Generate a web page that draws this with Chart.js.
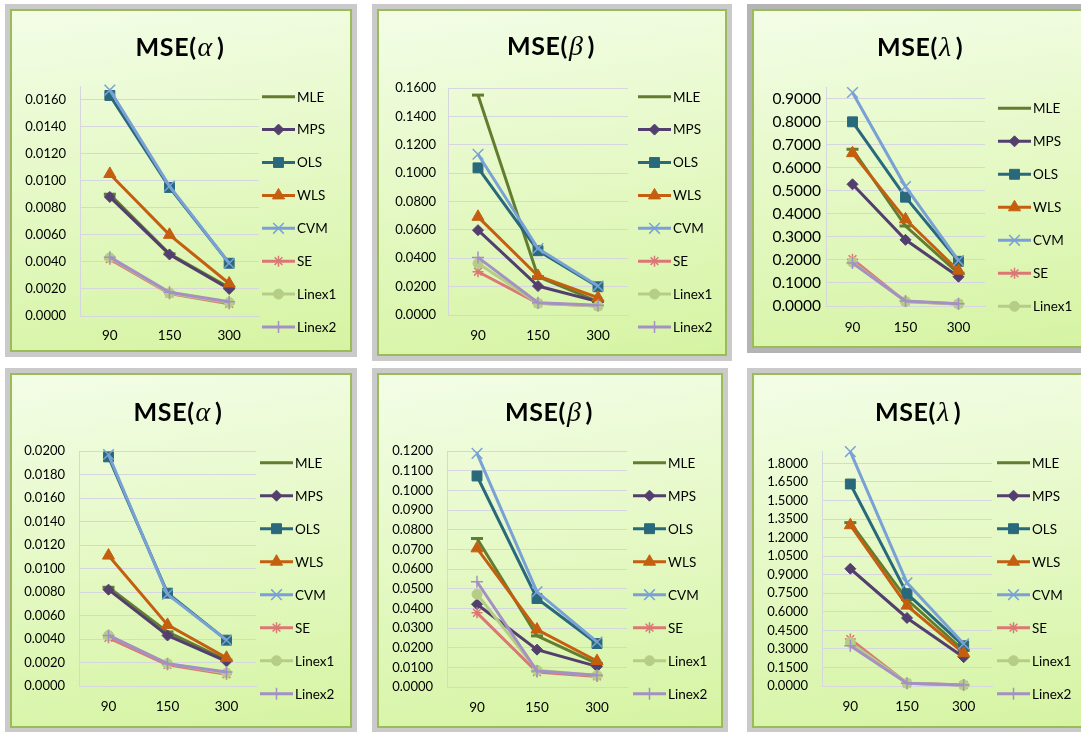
<!DOCTYPE html>
<html lang="en">
<head>
<meta charset="UTF-8">
<title>MSE panels</title>
<script src="https://cdn.jsdelivr.net/npm/chart.js"></script>
<style>
  body { margin: 0; width: 1081px; height: 732px; overflow: hidden; background: #fff; position: relative; font-family: Lato, sans-serif; }
  .panel {
    position: absolute;
    background: linear-gradient(172deg, #f3fde7 0%, #e6f9c8 45%, #d5f4a2 100%);
    box-shadow: inset 0 0 0 2px #9bbb59, 0 0 0 5px #cacaca;
  }
  .panel.dark { box-shadow: inset 0 0 0 2px #9bbb59, 0 0 0 5px #b4b4b4; }
  .panel canvas { position: absolute; left: 0; top: 0; }
  .ttl {
    position: absolute; transform: translate(-50%, -50%);
    font: bold 25px Lato, sans-serif; letter-spacing: 0.6px; color: #000; white-space: nowrap;
  }
  .ttl i { font: italic 28px "Liberation Serif", serif; margin: 0 4px 0 1px; }
</style>
</head>
<body>
<script>
// categories and series
const sampleSizes = ['90', '150', '300'];
const methods = ['MLE', 'MPS', 'OLS', 'WLS', 'CVM', 'SE', 'Linex1', 'Linex2'];
const paramSymbols = ['α', 'β', 'λ', 'α', 'β', 'λ'];

// one row per method (MLE..Linex2), values for n = 90, 150, 300
const mseAlphaTop = [
  [0.0090, 0.0046, 0.0021],
  [0.0088, 0.00455, 0.0020],
  [0.0163, 0.0095, 0.0039],
  [0.0105, 0.0060, 0.0024],
  [0.0167, 0.0096, 0.0039],
  [0.0042, 0.00165, 0.0009],
  [0.0043, 0.0017, 0.0010],
  [0.00435, 0.00175, 0.00105]
];
const mseBetaTop = [
  [0.1550, 0.0270, 0.0095],
  [0.0598, 0.0204, 0.0094],
  [0.1037, 0.0453, 0.0199],
  [0.0692, 0.0275, 0.0122],
  [0.1133, 0.0469, 0.0204],
  [0.0305, 0.0082, 0.0063],
  [0.0364, 0.0082, 0.0063],
  [0.0406, 0.0087, 0.0068]
];
const mseLambdaTop = [
  [0.680, 0.347, 0.142],
  [0.528, 0.287, 0.127],
  [0.799, 0.472, 0.194],
  [0.663, 0.376, 0.153],
  [0.926, 0.518, 0.197],
  [0.203, 0.019, 0.009],
  [0.190, 0.019, 0.009],
  [0.186, 0.022, 0.010]
];
const mseAlphaBottom = [
  [0.0084, 0.0046, 0.0022],
  [0.0082, 0.0043, 0.0021],
  [0.0195, 0.0079, 0.0039],
  [0.0111, 0.0052, 0.0024],
  [0.0197, 0.0078, 0.0039],
  [0.0041, 0.0018, 0.0010],
  [0.0043, 0.0019, 0.0011],
  [0.0043, 0.0019, 0.0012]
];
const mseBetaBottom = [
  [0.0755, 0.0260, 0.0119],
  [0.0421, 0.0190, 0.0105],
  [0.1073, 0.0450, 0.0221],
  [0.0705, 0.0292, 0.0132],
  [0.1188, 0.0484, 0.0229],
  [0.0377, 0.0076, 0.0054],
  [0.0472, 0.0085, 0.0059],
  [0.0535, 0.0081, 0.0060]
];
const mseLambdaBottom = [
  [1.321, 0.699, 0.287],
  [0.948, 0.550, 0.233],
  [1.633, 0.747, 0.325],
  [1.300, 0.650, 0.265],
  [1.895, 0.834, 0.341],
  [0.379, 0.022, 0.008],
  [0.352, 0.022, 0.008],
  [0.325, 0.022, 0.008]
];

// y axis ranges (tick labels are multiples of the step)
const yAxisMax = [0.017, 0.16, 0.95, 0.02, 0.12, 1.9];
const yAxisStep = [0.002, 0.02, 0.1, 0.002, 0.01, 0.15];

const panelData = [mseAlphaTop, mseBetaTop, mseLambdaTop, mseAlphaBottom, mseBetaBottom, mseLambdaBottom];

// look of the series
const seriesColors = ['#637d30', '#533f6e', '#29697b', '#c45f10', '#79a1d6', '#db7774', '#b6cd87', '#a391c4'];
const markerStyles = ['line', 'rectRot', 'rect', 'triangle', 'crossRot', 'star', 'circle', 'cross'];
const markerRadius = [6, 5.5, 7, 7, 7.5, 5.5, 5, 6];
const markerBorder = [3, 1, 1, 1, 1.5, 1.5, 1, 1.5];

// panel boxes: page position, size, plot area (relative), label offsets, legend placement
const panelBoxes = [
  { x: 10,  y: 9,   w: 342, h: 343, caL: 70, caR: 249, caT: 77, caB: 307, yPad: 14, xPad: 12, yFont: 13,
    lgX: 252, lgT: 87.7, lgGap: 32.9, lgN: 8, tx: 170, ty: 38 },
  { x: 377, y: 9,   w: 350, h: 347, caL: 71, caR: 251, caT: 79, caB: 306, yPad: 12, xPad: 13, yFont: 13,
    lgX: 261, lgT: 87.7, lgGap: 32.9, lgN: 8, tx: 174, ty: 37 },
  { x: 752, y: 9,   w: 340, h: 339, caL: 74, caR: 233, caT: 78, caB: 297, yPad: 5, xPad: 14, yFont: 15.5,
    lgX: 246, lgT: 99.3, lgGap: 33, lgN: 7, tx: 168, ty: 38, dark: true },
  { x: 10,  y: 373, w: 342, h: 355, caL: 69, caR: 246, caT: 78, caB: 313, yPad: 14, xPad: 13, yFont: 13,
    lgX: 250, lgT: 89.7, lgGap: 33, lgN: 8, tx: 168, ty: 39 },
  { x: 377, y: 373, w: 346, h: 355, caL: 70, caR: 250, caT: 78, caB: 314, yPad: 14, xPad: 13, yFont: 13,
    lgX: 256, lgT: 89.7, lgGap: 33, lgN: 8, tx: 172, ty: 39 },
  { x: 752, y: 373, w: 340, h: 355, caL: 70, caR: 240, caT: 78, caB: 313, yPad: 14, xPad: 13, yFont: 13,
    lgX: 245, lgT: 89.7, lgGap: 33, lgN: 8, tx: 166, ty: 39 }
];

const gridColor = '#d6d6de';
Chart.defaults.font.family = 'Lato';
Chart.defaults.color = '#000';

// Excel-like legend: line sample with marker, then the name
const sideLegend = {
  id: 'sideLegend',
  afterDraw(chart, args, opts) {
    const ctx = chart.ctx;
    const sets = chart.data.datasets;
    ctx.save();
    ctx.font = '13.5px Lato';
    ctx.textBaseline = 'middle';
    ctx.textAlign = 'left';
    for (let i = 0; i < opts.count; i++) {
      const d = sets[i];
      const y = opts.top + i * opts.gap;
      ctx.strokeStyle = d.borderColor;
      ctx.fillStyle = d.borderColor;
      ctx.lineWidth = 3;
      ctx.beginPath();
      ctx.moveTo(opts.x, y);
      ctx.lineTo(opts.x + 33, y);
      ctx.stroke();
      ctx.lineWidth = d.pointBorderWidth;
      Chart.helpers.drawPoint(ctx, {
        pointStyle: d.pointStyle, radius: d.label === 'MLE' ? 0 : d.pointRadius,
        borderWidth: d.pointBorderWidth, rotation: 0
      }, opts.x + 16.5, y);
      ctx.fillStyle = '#000';
      ctx.fillText(d.label, opts.x + 35, y + 0.5);
    }
    ctx.restore();
  }
};

panelBoxes.forEach((b, p) => {
  const div = document.createElement('div');
  div.className = 'panel' + (b.dark ? ' dark' : '');
  div.style.cssText = `left:${b.x}px;top:${b.y}px;width:${b.w}px;height:${b.h}px;`;
  const cv = document.createElement('canvas');
  cv.width = b.w; cv.height = b.h;
  div.appendChild(cv);
  const t = document.createElement('div');
  t.className = 'ttl';
  t.style.left = b.tx + 'px';
  t.style.top = b.ty + 'px';
  t.innerHTML = 'MSE(<i>' + paramSymbols[p] + '</i>)';
  div.appendChild(t);
  document.body.appendChild(div);

  const rows = panelData[p];
  const step = yAxisStep[p];
  new Chart(cv, {
    type: 'line',
    data: {
      labels: sampleSizes,
      datasets: methods.map((m, i) => ({
        label: m,
        data: rows[i],
        borderColor: seriesColors[i],
        backgroundColor: seriesColors[i],
        borderWidth: 3,
        pointStyle: markerStyles[i],
        pointRadius: markerRadius[i],
        pointBorderWidth: markerBorder[i],
        pointBackgroundColor: seriesColors[i],
        pointBorderColor: seriesColors[i],
        order: methods.length - i,
        tension: 0,
        clip: false
      }))
    },
    options: {
      responsive: false,
      animation: false,
      devicePixelRatio: 1,
      layout: { padding: { left: b.caL - 60, right: b.w - b.caR, top: b.caT, bottom: b.h - b.caB - 30 } },
      plugins: {
        legend: { display: false },
        tooltip: { enabled: false },
        sideLegend: { x: b.lgX, top: b.lgT, gap: b.lgGap, count: b.lgN }
      },
      scales: {
        x: {
          offset: true,
          grid: { display: false, drawTicks: false },
          border: { color: gridColor, width: 1 },
          ticks: { padding: b.xPad, font: { size: 13.5 }, color: '#000', maxRotation: 0 },
          afterFit: s => { s.height = 30; }
        },
        y: {
          min: 0,
          max: yAxisMax[p],
          grid: { color: gridColor, drawTicks: false },
          border: { color: gridColor, width: 1 },
          ticks: { stepSize: step, includeBounds: false, padding: b.yPad, font: { size: b.yFont }, color: '#000',
                   callback: v => Number(v).toFixed(4) },
          afterBuildTicks: s => {
            s.ticks = s.ticks.filter(tk => Math.abs(tk.value / step - Math.round(tk.value / step)) < 1e-6);
          },
          afterFit: s => { s.width = 60; }
        }
      }
    },
    plugins: [sideLegend]
  });
});
</script>
</body>
</html>
